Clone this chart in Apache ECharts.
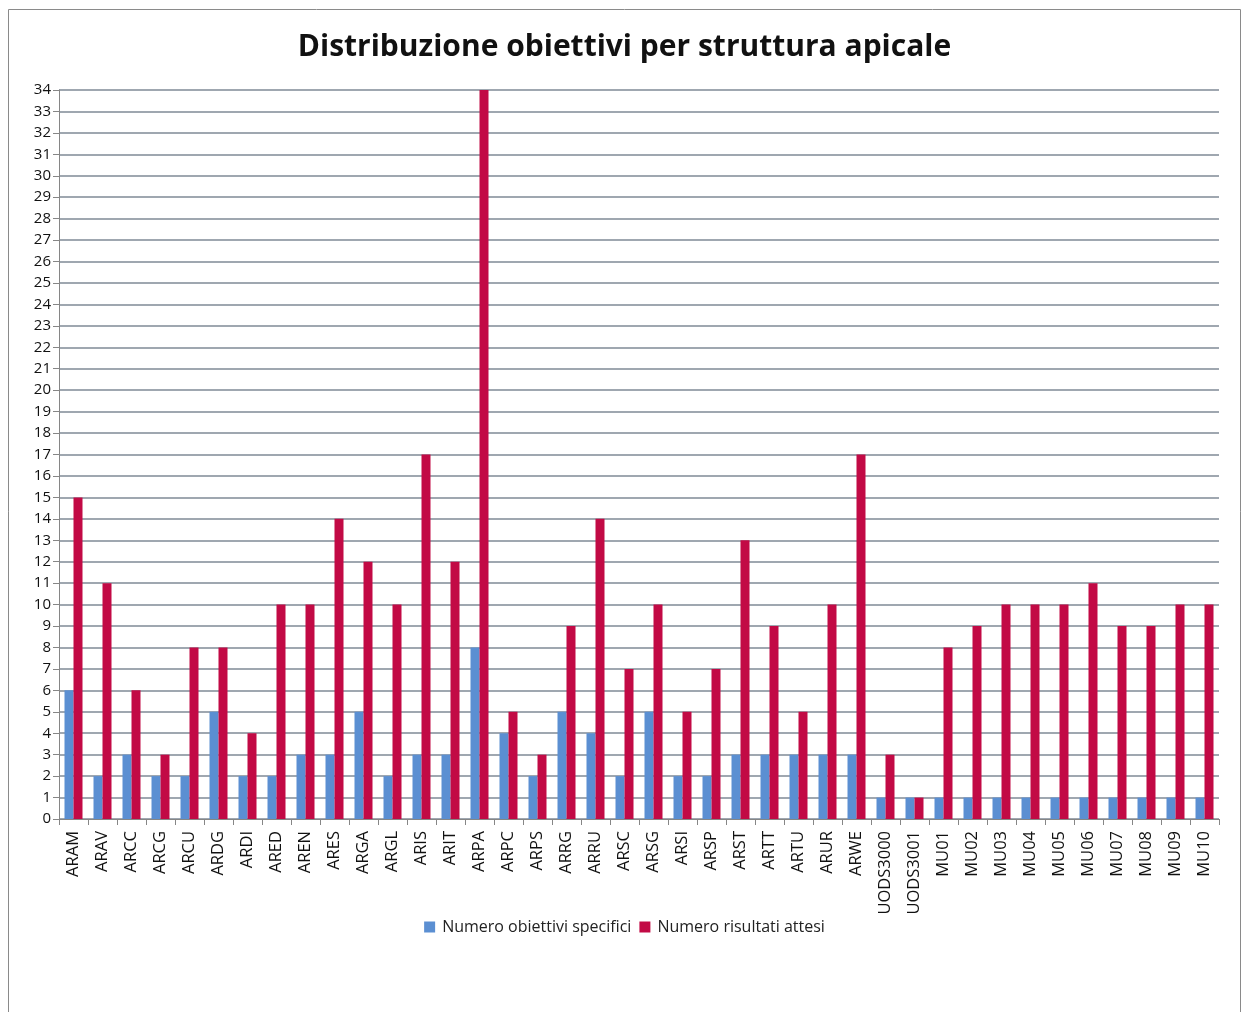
<!DOCTYPE html>
<html>
<head>
<meta charset="utf-8">
<script src="https://cdn.jsdelivr.net/npm/echarts@6/dist/echarts.min.js"></script>
<style>
html, body { margin: 0; padding: 0; background: #fff; }
#main { width: 1249px; height: 1012px; }
</style>
</head>
<body>
<div id="main"></div>
<script>
var categories = ['ARAM', 'ARAV', 'ARCC', 'ARCG', 'ARCU', 'ARDG', 'ARDI', 'ARED', 'AREN', 'ARES',
    'ARGA', 'ARGL', 'ARIS', 'ARIT', 'ARPA', 'ARPC', 'ARPS', 'ARRG', 'ARRU', 'ARSC',
    'ARSG', 'ARSI', 'ARSP', 'ARST', 'ARTT', 'ARTU', 'ARUR', 'ARWE', 'UODS3000', 'UODS3001',
    'MU01', 'MU02', 'MU03', 'MU04', 'MU05', 'MU06', 'MU07', 'MU08', 'MU09', 'MU10'];

var obiettivi = [6, 2, 3, 2, 2, 5, 2, 2, 3, 3,
    5, 2, 3, 3, 8, 4, 2, 5, 4, 2,
    5, 2, 2, 3, 3, 3, 3, 3, 1, 1,
    1, 1, 1, 1, 1, 1, 1, 1, 1, 1];

var risultati = [15, 11, 6, 3, 8, 8, 4, 10, 10, 14,
    12, 10, 17, 12, 34, 5, 3, 9, 14, 7,
    10, 5, 7, 13, 9, 5, 10, 17, 3, 1,
    8, 9, 10, 10, 10, 11, 9, 9, 10, 10];

var seriesNames = ['Numero obiettivi specifici', 'Numero risultati attesi'];

var font = '"Open Sans", "Noto Sans", sans-serif';

var chart = echarts.init(document.getElementById('main'));

chart.setOption({
    animation: false,
    backgroundColor: '#fff',
    title: {
        text: 'Distribuzione obiettivi per struttura apicale',
        left: 'center',
        top: 27,
        textStyle: {
            fontFamily: font,
            fontSize: 30,
            fontWeight: 'bold',
            color: '#111'
        }
    },
    graphic: [{
        type: 'rect',
        shape: { x: 8.5, y: 9.5, width: 1232, height: 1010 },
        style: { fill: 'none', stroke: '#8a8a8a', lineWidth: 1 },
        silent: true
    }],
    legend: {
        data: seriesNames,
        top: 914,
        left: 'center',
        itemWidth: 11,
        itemHeight: 11,
        itemGap: 8,
        icon: 'rect',
        textStyle: { fontFamily: font, fontSize: 16, color: '#222', padding: [0, 0, 0, 2] }
    },
    grid: {
        left: 59,
        right: 30,
        top: 90,
        bottom: 193
    },
    xAxis: {
        type: 'category',
        data: categories,
        axisLine: { lineStyle: { color: '#868686' } },
        axisTick: { show: true, length: 6, lineStyle: { color: '#868686' } },
        axisLabel: {
            rotate: 90,
            interval: 0,
            fontFamily: font,
            fontSize: 16.5,
            color: '#111',
            margin: 12
        }
    },
    yAxis: {
        type: 'value',
        min: 0,
        max: 34,
        interval: 1,
        axisLine: { show: true, lineStyle: { color: '#868686' } },
        axisTick: { show: true, length: 6, lineStyle: { color: '#868686' } },
        axisLabel: {
            fontFamily: font,
            fontSize: 15,
            color: '#111',
            margin: 8
        },
        splitLine: { lineStyle: { color: '#7f8a96', width: 1.5 } }
    },
    series: [{
        name: seriesNames[0],
        type: 'bar',
        data: obiettivi,
        barWidth: 9,
        barGap: '0%',
        itemStyle: { color: '#5b8fd2' }
    }, {
        name: seriesNames[1],
        type: 'bar',
        data: risultati,
        barWidth: 9,
        barGap: '0%',
        itemStyle: { color: '#c20a45' }
    }]
});
</script>
</body>
</html>
